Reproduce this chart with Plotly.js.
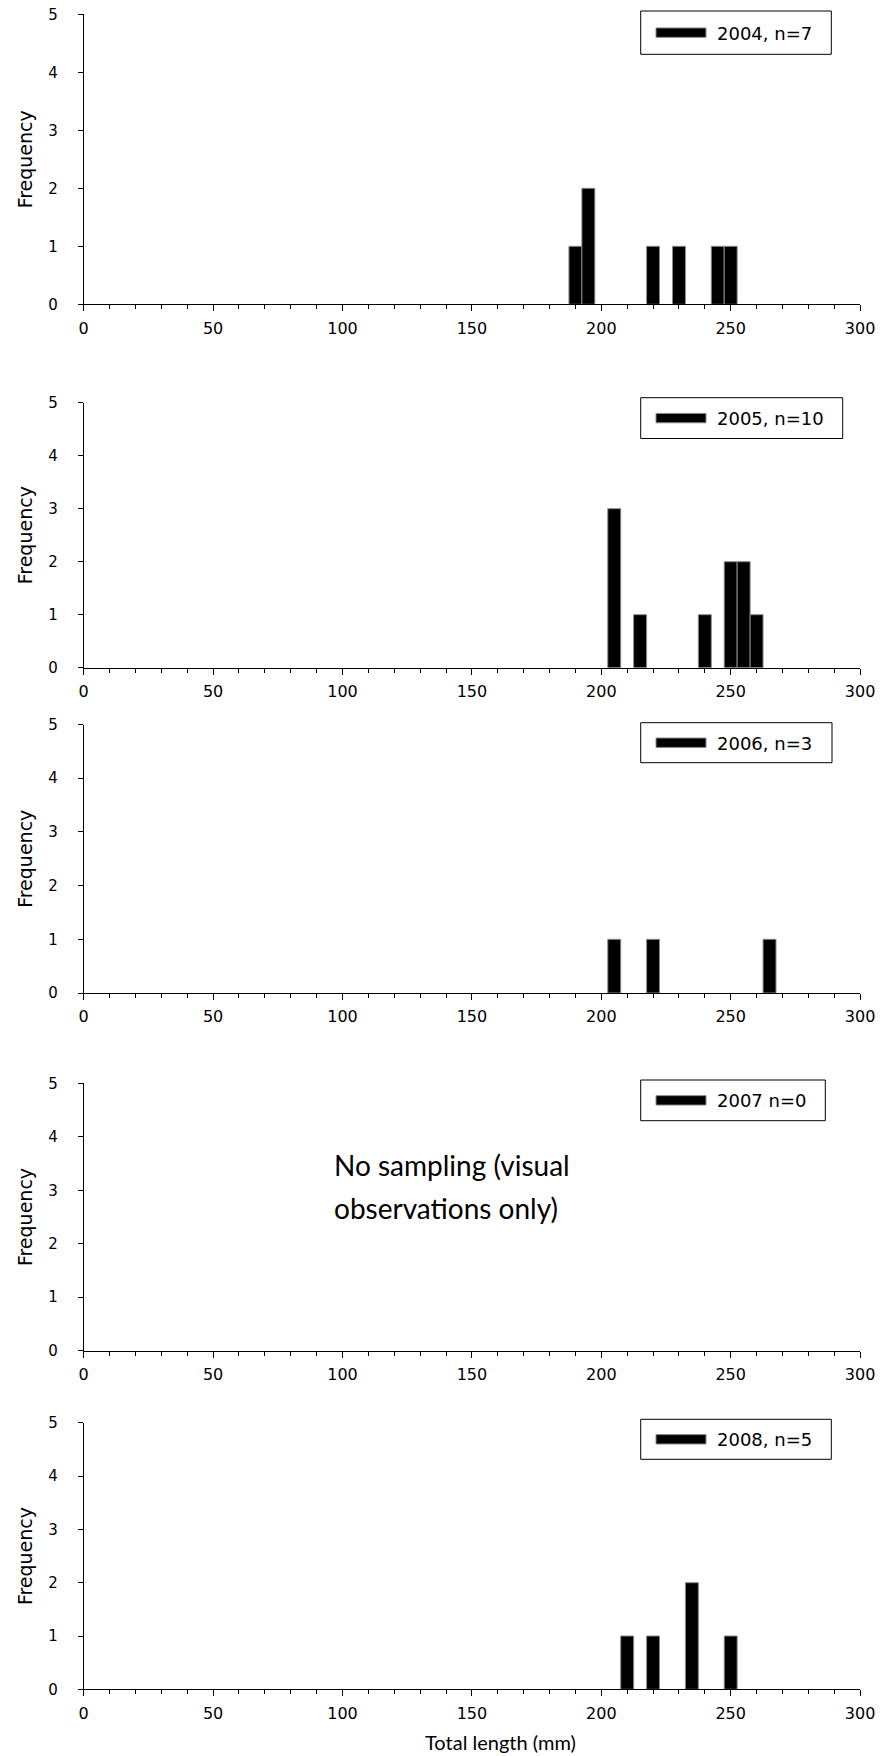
<!DOCTYPE html>
<html>
<head>
<meta charset="utf-8">
<script src="https://cdn.plot.ly/plotly-3.0.1.min.js"></script>
<style>
  html, body { margin: 0; padding: 0; background: #ffffff; }
  #chart { width: 880px; height: 1756px; }
</style>
</head>
<body>
<div id="chart"></div>
<script>
// ---------------- DATA ----------------
// Bin centres (mm, 5 mm bins) and frequencies for each sampling year
const years = ["2004", "2005", "2006", "2007", "2008"];
const legendLabels = ["2004, n=7", "2005, n=10", "2006, n=3", "2007 n=0", "2008, n=5"];

const length2004 = [190, 195, 220, 230, 245, 250];
const freq2004   = [1, 2, 1, 1, 1, 1];

const length2005 = [205, 215, 240, 250, 255, 260];
const freq2005   = [3, 1, 1, 2, 2, 1];

const length2006 = [205, 220, 265];
const freq2006   = [1, 1, 1];

const length2007 = [];
const freq2007   = [];

const length2008 = [210, 220, 235, 250];
const freq2008   = [1, 1, 2, 1];

const binWidth = 5;
const xTickValues = [0, 50, 100, 150, 200, 250, 300];
const yTickValues = [0, 1, 2, 3, 4, 5];

const noSamplingLines = ["No sampling (visual", "observations only)"];
const xTitle = "Total length (mm)";
const yTitle = "Frequency";

// ---------------- LAYOUT (pixel positions of each panel) ----------------
const W = 880, H = 1756;
const plotLeft = 83.7, plotRight = 860.1;
const panels = [
  { top: 14.3,   bottom: 304.3,  boxTop: 11,     boxBottom: 54.3,   boxRight: 831.3 },
  { top: 402.7,  bottom: 667.7,  boxTop: 397.7,  boxBottom: 438.5,  boxRight: 842.7 },
  { top: 724.5,  bottom: 993.0,  boxTop: 722.7,  boxBottom: 762.7,  boxRight: 832.0 },
  { top: 1083.3, bottom: 1350.7, boxTop: 1080,   boxBottom: 1120.7, boxRight: 825.3 },
  { top: 1422.8, bottom: 1689.3, boxTop: 1419.3, boxBottom: 1459.3, boxRight: 831.3 }
];
const px = p => p / W;
const py = p => 1 - p / H;

const lengths = [length2004, length2005, length2006, length2007, length2008];
const freqs = [freq2004, freq2005, freq2006, freq2007, freq2008];

const barFill = "#000000";
const barEdge = "#8a8a8a";
const sansWide = "DejaVu Sans, Verdana, sans-serif";
const tickFont = { family: sansWide, size: 16, color: "#000000" };
const yTickFont = { family: sansWide, size: 15, color: "#000000" };

const data = [];
const layout = {
  width: W, height: H,
  margin: { l: 0, r: 0, t: 0, b: 0 },
  paper_bgcolor: "#ffffff",
  plot_bgcolor: "#ffffff",
  showlegend: false,
  bargap: 0,
  shapes: [],
  annotations: []
};

panels.forEach((p, i) => {
  const n = i === 0 ? "" : String(i + 1);
  data.push({
    type: "bar",
    name: legendLabels[i],
    x: lengths[i],
    y: freqs[i],
    width: binWidth,
    xaxis: "x" + n,
    yaxis: "y" + n,
    marker: { color: barFill, line: { color: barEdge, width: 1 } },
    hoverinfo: "x+y"
  });

  layout["xaxis" + n] = {
    domain: [px(plotLeft), px(plotRight)],
    anchor: "y" + n,
    range: [0, 300],
    tickmode: "array",
    tickvals: xTickValues,
    ticktext: xTickValues.map(String),
    ticks: "outside",
    ticklen: 6,
    tickwidth: 1,
    tickcolor: "#000000",
    ticklabelstandoff: 3,
    minor: { dtick: 10, tick0: 0, ticks: "outside", ticklen: 4, tickwidth: 1, tickcolor: "#000000", showgrid: false },
    showline: true,
    linecolor: "#000000",
    linewidth: 1,
    showgrid: false,
    zeroline: false,
    tickfont: tickFont,
    fixedrange: true
  };
  layout["yaxis" + n] = {
    domain: [py(p.bottom), py(p.top)],
    anchor: "x" + n,
    range: [0, 5],
    tickmode: "array",
    tickvals: yTickValues,
    ticktext: yTickValues.map(String),
    ticks: "outside",
    ticklen: 5,
    tickwidth: 1,
    tickcolor: "#000000",
    ticklabelstandoff: 17,
    showline: true,
    linecolor: "#000000",
    linewidth: 1,
    showgrid: false,
    zeroline: false,
    tickfont: yTickFont,
    title: { text: yTitle, font: { family: sansWide, size: 19, color: "#000000" }, standoff: 10 },
    fixedrange: true
  };

  // legend box
  const boxLeft = 640.7;
  const midY = (p.boxTop + p.boxBottom) / 2;
  layout.shapes.push({
    type: "rect", xref: "paper", yref: "paper",
    x0: px(boxLeft), x1: px(p.boxRight), y0: py(p.boxBottom), y1: py(p.boxTop),
    line: { color: "#000000", width: 1 }, fillcolor: "#ffffff", layer: "above"
  });
  layout.shapes.push({
    type: "rect", xref: "paper", yref: "paper",
    x0: px(656), x1: px(706), y0: py(midY + 4.7), y1: py(midY - 4.7),
    line: { color: barEdge, width: 1 }, fillcolor: barFill, layer: "above"
  });
  layout.annotations.push({
    xref: "paper", yref: "paper",
    x: px(715), y: py(midY + 0.5),
    xanchor: "left", yanchor: "middle",
    text: legendLabels[i],
    showarrow: false,
    font: { family: sansWide, size: 18, color: "#000000" }
  });
});

// "No sampling" note on the 2007 panel
noSamplingLines.forEach((t, k) => {
  layout.annotations.push({
    xref: "paper", yref: "paper",
    x: px(332), y: py(1165 + k * 43),
    xanchor: "left", yanchor: "middle",
    text: t, showarrow: false,
    font: { family: "Lato, 'Open Sans', sans-serif", size: 28, color: "#000000" }
  });
});

// x-axis title beneath the last panel
layout.annotations.push({
  xref: "paper", yref: "paper",
  x: px(500), y: py(1742),
  xanchor: "center", yanchor: "middle",
  text: xTitle, showarrow: false,
  font: { family: "Lato, 'Open Sans', sans-serif", size: 20, color: "#000000" }
});

Plotly.newPlot("chart", data, layout, { displayModeBar: false, staticPlot: true });
</script>
</body>
</html>
